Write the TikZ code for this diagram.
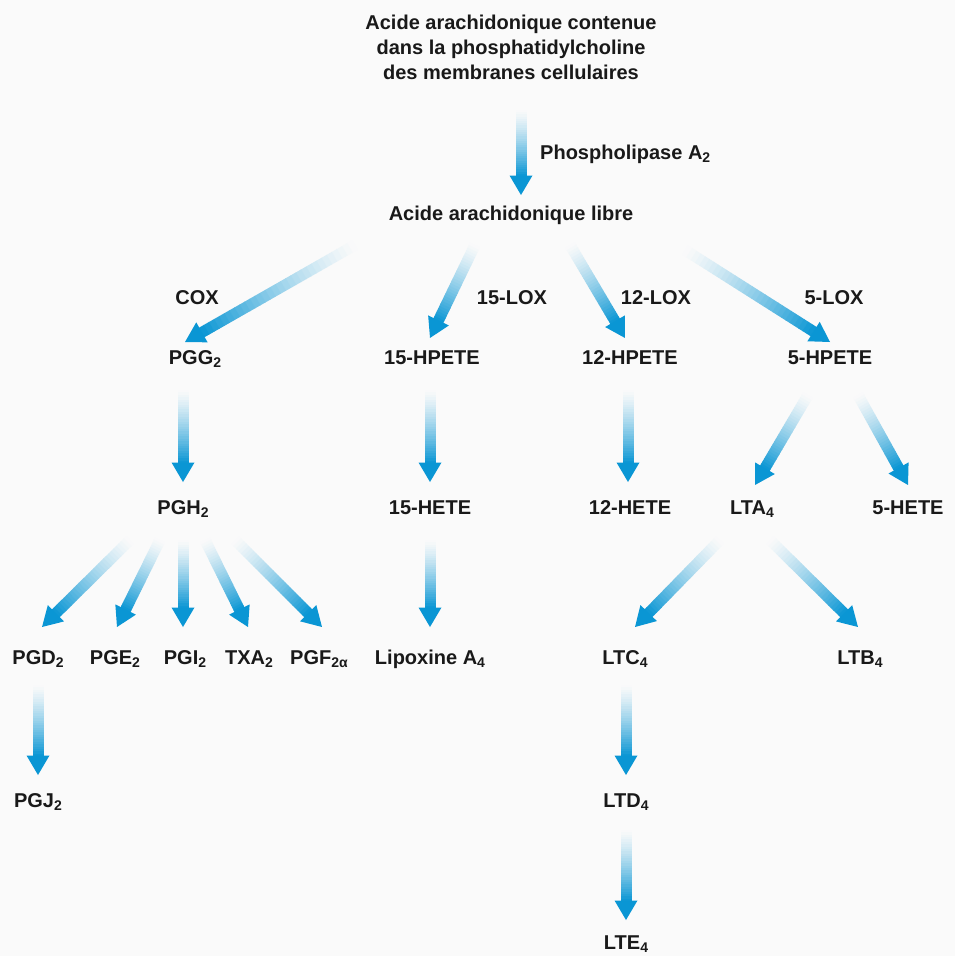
\documentclass[tikz,border=0pt]{standalone}
\usepackage{fontspec}
\setmainfont{Liberation Sans}
\usetikzlibrary{calc}
\definecolor{bgc}{RGB}{250,250,250}
\definecolor{arrblue}{RGB}{10,150,212}
\definecolor{txt}{RGB}{25,25,25}
\newcommand\sbs[1]{\raisebox{-0.3ex}{\fontsize{14}{14}\selectfont #1}}
\newcommand\flowarrow[3]{%
  \coordinate (#1t) at (#2);
  \coordinate (#1h) at (#3);
  \path let \p1=(#1t), \p2=(#1h), \n1={atan2(\y2-\y1,\x2-\x1)}, \n2={veclen(\x2-\x1,\y2-\y1)} in \pgfextra{\xdef\arrang{\n1}\xdef\arrlen{\n2}};
  \pgfmathsetmacro\slw{(\arrlen-19)/30}
  \begin{scope}[shift={(#1t)}, rotate=\arrang]
    \foreach \i in {0,...,29}{%
      \pgfmathsetmacro\pc{100*((\i+0.5)/30)^1.3}
      \fill[arrblue!\pc!bgc] ({\i*\slw},-5.5) rectangle ({(\i+1)*\slw+0.5},5.5);}
    \fill[arrblue] ({\arrlen-19.5},-11.5) -- (\arrlen,0) -- ({\arrlen-19.5},11.5) -- cycle;
  \end{scope}}
\tikzset{lbl/.style={text=txt, font=\fontsize{20}{25}\selectfont\bfseries, inner sep=0pt, anchor=base}}
\begin{document}
\begin{tikzpicture}[x=1pt,y=1pt]
\fill[bgc] (0,0) rectangle (955,-956);
\useasboundingbox (0,0) rectangle (955,-956);
% texts
\node[lbl, anchor=center, align=center] (src) at (511,-47) {Acide arachidonique contenue\\dans la phosphatidylcholine\\des membranes cellulaires};
\node[lbl, anchor=base west] (pla) at (540,-159) {Phospholipase A\sbs{2}};
\node[lbl] (aal) at (511,-220) {Acide arachidonique libre};
\node[lbl] (cox) at (197,-304) {COX};
\node[lbl] (lox15) at (512,-304) {15-LOX};
\node[lbl] (lox12) at (656,-304) {12-LOX};
\node[lbl] (lox5) at (834,-304) {5-LOX};
\node[lbl] (pgg) at (195,-364) {PGG\sbs{2}};
\node[lbl] (hpete15) at (432,-364) {15-HPETE};
\node[lbl] (hpete12) at (630,-364) {12-HPETE};
\node[lbl] (hpete5) at (830,-364) {5-HPETE};
\node[lbl] (pgh) at (183,-514) {PGH\sbs{2}};
\node[lbl] (hete15) at (430,-514) {15-HETE};
\node[lbl] (hete12) at (630,-514) {12-HETE};
\node[lbl] (lta) at (752,-514) {LTA\sbs{4}};
\node[lbl] (hete5) at (908,-514) {5-HETE};
\node[lbl] (pgd) at (38,-664) {PGD\sbs{2}};
\node[lbl] (pge) at (115,-664) {PGE\sbs{2}};
\node[lbl] (pgi) at (185,-664) {PGI\sbs{2}};
\node[lbl] (txa) at (249,-664) {TXA\sbs{2}};
\node[lbl] (pgf) at (319,-664) {PGF\sbs{2α}};
\node[lbl] (lipo) at (430,-664) {Lipoxine A\sbs{4}};
\node[lbl] (ltc) at (625,-664) {LTC\sbs{4}};
\node[lbl] (ltb) at (860,-664) {LTB\sbs{4}};
\node[lbl] (pgj) at (38,-807) {PGJ\sbs{2}};
\node[lbl] (ltd) at (626,-807) {LTD\sbs{4}};
\node[lbl] (lte) at (626,-949) {LTE\sbs{4}};
% arrows
\flowarrow{a1}{521,-110}{521,-195}
\flowarrow{a2}{355,-245}{185,-342}
\flowarrow{a3}{475,-245}{430,-338}
\flowarrow{a4}{570,-245}{625,-338}
\flowarrow{a5}{685,-250}{830,-342}
\flowarrow{a6}{183,-390}{183,-482}
\flowarrow{a7}{430,-390}{430,-482}
\flowarrow{a8}{628,-390}{628,-482}
\flowarrow{a9}{808,-395}{755,-485}
\flowarrow{a10}{858,-395}{908,-485}
\flowarrow{a11}{130,-540}{42,-627}
\flowarrow{a12}{160,-540}{117,-627}
\flowarrow{a13}{183,-540}{183,-627}
\flowarrow{a14}{205,-540}{248,-627}
\flowarrow{a15}{235,-540}{322,-627}
\flowarrow{a16}{430,-540}{430,-627}
\flowarrow{a17}{720,-540}{635,-627}
\flowarrow{a18}{770,-540}{858,-627}
\flowarrow{a19}{38,-685}{38,-775}
\flowarrow{a20}{626,-685}{626,-775}
\flowarrow{a21}{626,-830}{626,-920}
\end{tikzpicture}
\end{document}
